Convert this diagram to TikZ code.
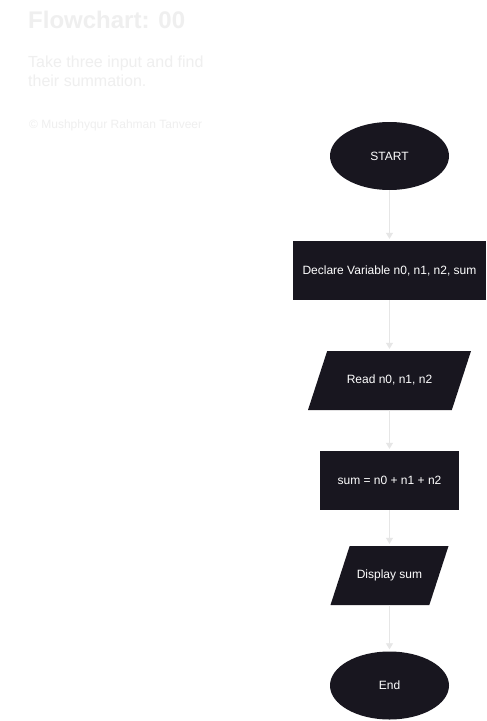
\documentclass[tikz,border=0pt]{standalone}
\usepackage{fontspec}
\setmainfont{Liberation Sans}
\usetikzlibrary{shapes.geometric,arrows.meta}
\definecolor{boxfill}{HTML}{18161F}
\definecolor{linkgray}{HTML}{E6E6E6}
\definecolor{faintgray}{HTML}{EFEFEF}

\begin{document}
\begin{tikzpicture}[x=1pt,y=-1pt,
    every node/.style={inner sep=0pt},
    boxtext/.style={text=white,font=\fontsize{12}{14}\selectfont},
    term/.style={ellipse,fill=boxfill,boxtext,minimum width=119pt,minimum height=68pt},
    proc/.style={rectangle,fill=boxfill,boxtext,minimum height=59pt},
    io/.style={trapezium,trapezium left angle=72,trapezium right angle=108,
      trapezium stretches body=true,fill=boxfill,boxtext,
      text height=8.6pt,text depth=2.4pt,inner ysep=24pt},
    link/.style={draw=linkgray,line width=0.8pt,shorten >=2pt,
      -{Triangle[length=6pt,width=7pt]}}]
\fill[white] (0,0) rectangle (487,721);
\useasboundingbox (0,0) rectangle (487,721);

\node[anchor=base west,text=faintgray,font=\fontsize{24}{29}\bfseries\selectfont]
  (title) at (28,28) {Flowchart: 00};
\node[anchor=base west,text=faintgray,align=left,font=\fontsize{16}{19}\selectfont]
  (task) at (28,86) {Take three input and find\\their summation.};
\node[anchor=base west,text=faintgray,font=\fontsize{12}{14}\selectfont]
  (credit) at (29,128.5) {\textcopyright{} Mushphyqur Rahman Tanveer};

\node[term] (start) at (389.5,156) {START};
\node[proc,minimum width=193pt] (declare) at (389.5,270.5) {Declare Variable n0, n1, n2, sum};
\node[io,minimum width=163pt] (read) at (389.5,380.5) {Read n0, n1, n2};
\node[proc,minimum width=139pt] (sum) at (389.5,480.5) {sum = n0 + n1 + n2};
\node[io,minimum width=118pt] (display) at (389.5,575.5) {Display sum};
\node[term] (stop) at (389.5,685.5) {End};

\draw[link] (start) -- (declare);
\draw[link] (declare) -- (read);
\draw[link] (read) -- (sum);
\draw[link] (sum) -- (display);
\draw[link] (display) -- (stop);
\end{tikzpicture}
\end{document}
